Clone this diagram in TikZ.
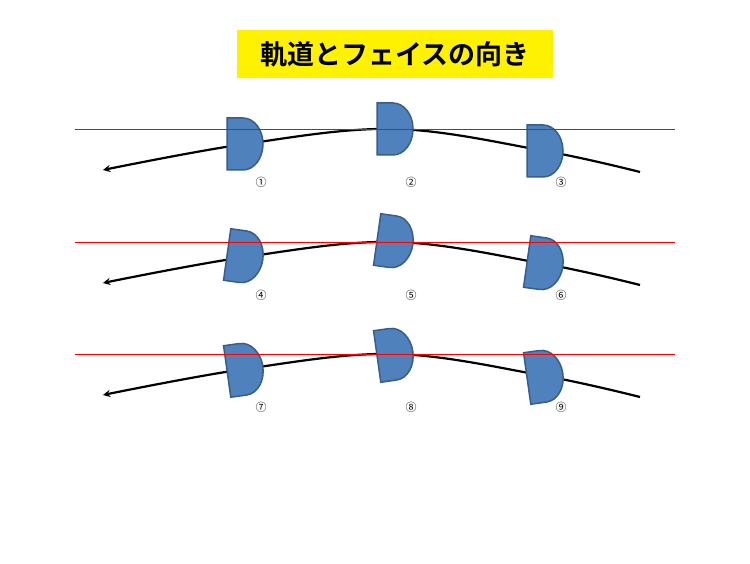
\documentclass[tikz,border=0pt]{standalone}
\usepackage{fontspec}
\newfontfamily\jpfont{Noto Sans CJK JP}[BoldFont={Noto Sans CJK JP Bold}]
\begin{document}
\begin{tikzpicture}[x=1pt,y=1pt,>=stealth,
    face/.style={fill={rgb,255:red,79;green,129;blue,189},draw={rgb,255:red,56;green,93;blue,138},line width=1.5pt},
    path line/.style={line width=2.2pt,->},
    ref line/.style={red,line width=1pt},
    numlabel/.style={font=\jpfont\fontsize{11}{11}\selectfont}]
    \useasboundingbox (0,0) rectangle (750,563);

    % title
    \node[fill=yellow,minimum width=316pt,minimum height=48pt,font=\jpfont\bfseries\fontsize{27}{27}\selectfont] (title) at (395,509) {軌道とフェイスの向き};

    \foreach \row/\dy/\rot/\na/\nb/\nc in {1/0/0/①/②/③, 2/113/-8/④/⑤/⑥, 3/225/8/⑦/⑧/⑨} {
      \begin{scope}[yshift=-\dy pt]
        % the swing path
        \draw[path line] plot[smooth,tension=0.6] coordinates {(640,391) (545,412) (395,434) (245,419) (103,393)};
        % the faces
        \foreach \x/\y/\r in {245/419/\rot, 395/434/\rot, 545/412/\rot}
          \draw[face,rotate around={\r:(\x,\y)}] (\x-18,\y+26) -- (\x-2,\y+26)
            arc[start angle=90,end angle=-90,x radius=20,y radius=26] -- (\x-18,\y-26) -- cycle;
        % the target line
        \draw[ref line] (75,433) coordinate (l\row) -- (675,433) coordinate (r\row);
        % the numbers
        \node[numlabel] (a\row) at (261,381) {\na};
        \node[numlabel] (b\row) at (411,381) {\nb};
        \node[numlabel] (c\row) at (561,381) {\nc};
      \end{scope}
    }
  \end{tikzpicture}
\end{document}
